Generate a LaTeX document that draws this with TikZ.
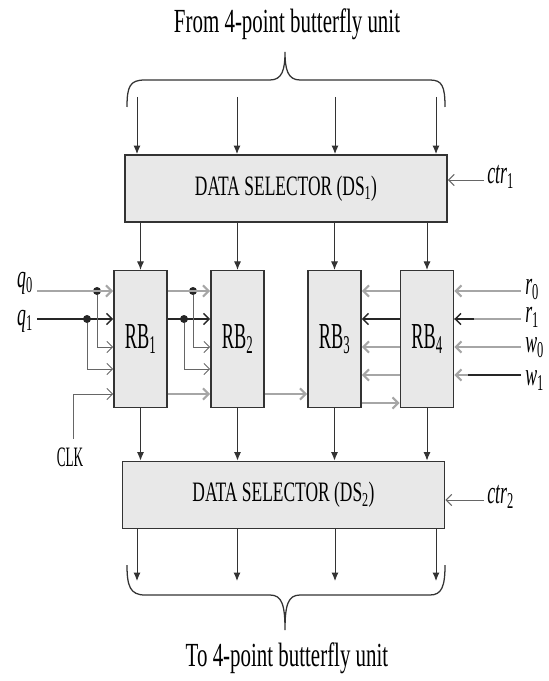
\documentclass[tikz,border=0pt]{standalone}
\usepackage{fontspec}
\setmainfont{Liberation Serif}
\usepackage{graphicx}
\usetikzlibrary{positioning, arrows.meta, calc}

\newcommand{\slim}[2][0.62]{\scalebox{#1}[1]{#2}}

\tikzset{
    dsbox/.style={rectangle, draw=black!80, fill=gray!18, line width=1.2pt, minimum width=8.05cm, minimum height=1.68cm, font=\fontsize{20}{24}\selectfont},
    rbbox/.style={rectangle, draw=black!80, fill=gray!18, line width=1pt, minimum width=1.33cm, minimum height=3.42cm, font=\fontsize{26}{30}\selectfont},
    sig/.style={font=\fontsize{23}{26}\selectfont\itshape, inner sep=0pt, text height=9pt, text depth=4pt},
    dot/.style={circle, fill=black!85, inner sep=0pt, minimum size=2mm},
    arr/.style={-{Latex[length=6pt,width=5pt]}, line width=0.7pt, black!80},
    inarr/.style={-{Straight Barb[length=4pt,width=8pt]}},
    gbus/.style={line width=1.5pt, gray!70},
    kbus/.style={line width=1pt, black!85},
    tap/.style={line width=0.7pt, gray!80!black},
    caption/.style={font=\fontsize{24}{28}\selectfont}
}

\begin{document}
\begin{tikzpicture}[x=0.025cm, y=-0.025cm]
    \useasboundingbox (0,0) rectangle (548,681);
    % data selectors
    \node[dsbox] (DS1) at (286,188.5) {\slim{DATA SELECTOR (DS\textsubscript{1})}};
    \node[dsbox] (DS2) at (283.5,495) {\slim{DATA SELECTOR (DS\textsubscript{2})}};
    % register banks
    \node[rbbox] (RB1) at (140.5,339) {\slim[0.5]{RB\textsubscript{1}}};
    \node[rbbox] (RB2) at (237.5,339) {\slim[0.5]{RB\textsubscript{2}}};
    \node[rbbox] (RB3) at (334.5,339) {\slim[0.5]{RB\textsubscript{3}}};
    \node[rbbox] (RB4) at (427,339) {\slim[0.5]{RB\textsubscript{4}}};

    % butterfly side
    \node[caption] (from) at (287,24) {\slim{From 4-point butterfly unit}};
    \node[caption] (to) at (287,658) {\slim{To 4-point butterfly unit}};
    \draw[line width=0.9pt, black!80] (127,107) .. controls (127,86) and (130,80) .. (145,80) -- (270,80) .. controls (282,80) and (285,70) .. (285,52)
        .. controls (285,70) and (288,80) .. (300,80) -- (430,80) .. controls (442,80) and (445,86) .. (445,107);
    \draw[line width=0.9pt, black!80] (127,565) .. controls (127,586) and (130,595) .. (145,595) -- (270,595) .. controls (282,595) and (285,605) .. (285,630)
        .. controls (285,605) and (288,595) .. (300,595) -- (430,595) .. controls (442,595) and (445,586) .. (445,565);
    \foreach \x [count=\i] in {137,237,335,436} {
        \coordinate (t\i) at (\x,97);
        \coordinate (b\i) at (\x,581);
        \draw[arr] (t\i) -- (t\i |- DS1.north);
        \draw[arr] (b\i |- DS2.south) -- (b\i);
    }
    \foreach \n in {RB1,RB2,RB3,RB4} {
        \draw[arr] (\n.north |- DS1.south) -- (\n.north);
        \draw[arr] (\n.south) -- (\n.south |- DS2.north);
    }

    % control inputs
    \node[sig, anchor=west] (ctr1) at (487,180) {\slim[0.55]{ctr\textsubscript{\upshape 1}}};
    \node[sig, anchor=west] (ctr2) at (487,500) {\slim[0.55]{ctr\textsubscript{\upshape 2}}};
    \draw[tap, inarr] ([xshift=-2pt]ctr1.west) -- (ctr1.west -| DS1.east);
    \draw[tap, inarr] ([xshift=-2pt]ctr2.west) -- (ctr2.west -| DS2.east);

    % rows
    \coordinate (ra) at (0,291);
    \coordinate (rb) at (0,319);
    \coordinate (rc) at (0,347);
    \coordinate (rd) at (0,369);
    \coordinate (re) at (0,394);
    \coordinate (rf) at (0,403);
    \coordinate (rg) at (0,375);

    % left inputs
    \node[sig] (q0) at (25,284) {\slim[0.55]{q\textsubscript{\upshape 0}}};
    \node[sig] (q1) at (25,322) {\slim[0.55]{q\textsubscript{\upshape 1}}};
    \node[font=\fontsize{20}{24}\selectfont] (clk) at (70,457) {\slim[0.47]{CLK}};
    \node[dot] (d1) at (97,291) {};
    \node[dot] (d2) at (87,319) {};
    \node[dot] (d3) at (193,291) {};
    \node[dot] (d4) at (184,319) {};
    \draw[gbus, inarr] ([xshift=3pt]q0.east |- ra) -- (RB1.west |- ra);
    \draw[kbus, inarr] ([xshift=3pt]q1.east |- rb) -- (RB1.west |- rb);
    \draw[tap, inarr] (d1) |- (RB1.west |- rc);
    \draw[tap, inarr] (d2) |- (RB1.west |- rd);
    \draw[tap, inarr] ($(clk.north)+(3,-4)$) |- (RB1.west |- re);

    % RB1 to RB2 to RB3 to RB4
    \draw[gbus, inarr] (RB1.east |- ra) -- (RB2.west |- ra);
    \draw[kbus, inarr] (RB1.east |- rb) -- (RB2.west |- rb);
    \draw[tap, inarr] (d3) |- (RB2.west |- rc);
    \draw[tap, inarr] (d4) |- (RB2.west |- rd);
    \draw[gbus, inarr] (RB1.east |- re) -- (RB2.west |- re);
    \draw[gbus, inarr] (RB2.east |- re) -- (RB3.west |- re);
    \draw[gbus, inarr] (RB3.east |- rf) -- (RB4.west |- rf);

    % RB4 back to RB3
    \draw[gbus, inarr] (RB4.west |- ra) -- (RB3.east |- ra);
    \draw[kbus, inarr] (RB4.west |- rb) -- (RB3.east |- rb);
    \draw[gbus, inarr] (RB4.west |- rc) -- (RB3.east |- rc);
    \draw[gbus, inarr] (RB4.west |- rg) -- (RB3.east |- rg);

    % right inputs
    \node[sig, anchor=west] (r0) at (525,291) {\slim[0.55]{r\textsubscript{\upshape 0}}};
    \node[sig, anchor=west] (r1) at (525,319) {\slim[0.55]{r\textsubscript{\upshape 1}}};
    \node[sig, anchor=west] (w0) at (525,349) {\slim[0.55]{w\textsubscript{\upshape 0}}};
    \node[sig, anchor=west] (w1) at (525,382) {\slim[0.55]{w\textsubscript{\upshape 1}}};
    \draw[gbus, inarr] ([xshift=-3pt]r0.west |- ra) -- (RB4.east |- ra);
    \draw[gbus] ([xshift=-3pt]r1.west |- rb) -- (RB4.east |- rb);
    \draw[kbus, inarr] ($(RB4.east |- rb)+(20,0)$) -- (RB4.east |- rb);
    \draw[gbus, inarr] ([xshift=-3pt]w0.west |- rc) -- (RB4.east |- rc);
    \draw[gbus, inarr] ([xshift=-3pt]w1.west |- rg) -- (RB4.east |- rg);
    \draw[kbus] ([xshift=-3pt]w1.west |- rg) -- ++(-53,0);
\end{tikzpicture}
\end{document}
